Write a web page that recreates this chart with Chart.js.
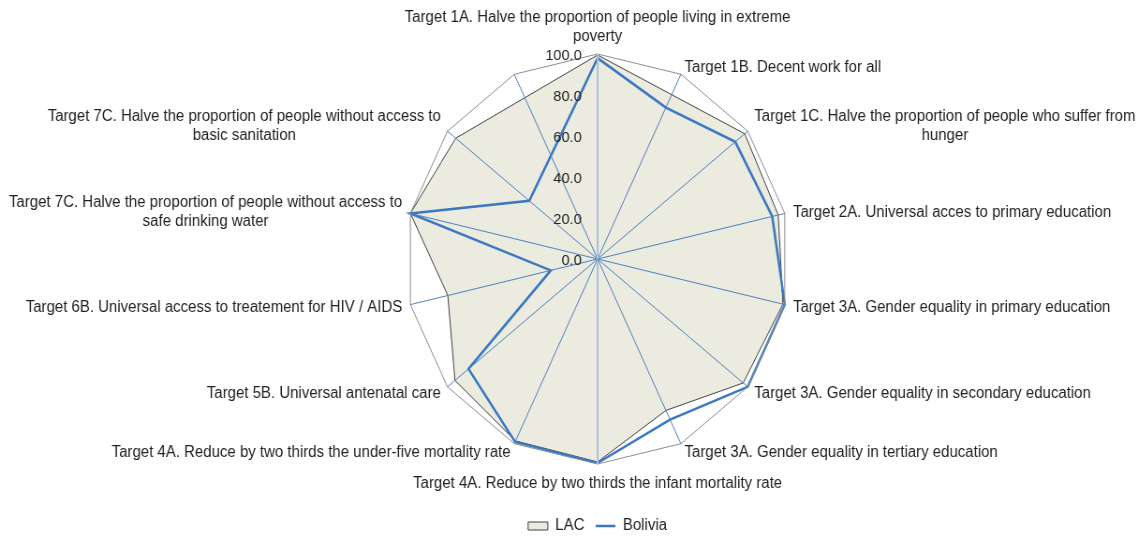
<!DOCTYPE html>
<html><head><meta charset="utf-8">
<script src="https://cdn.jsdelivr.net/npm/chart.js@4/dist/chart.umd.min.js"></script>
<style>
html,body{margin:0;padding:0;background:#fff;overflow:hidden;width:1138px;height:536px;}
#wrap{position:absolute;left:0;top:0;width:1215px;height:536px;transform:scaleX(0.93663);transform-origin:0 0;}
</style></head><body>
<div id="wrap"><canvas id="c"></canvas></div>
<script>
const categories = [
  ['Target 1A. Halve the proportion of people living in extreme', 'poverty'],
  'Target 1B. Decent work for all',
  ['Target 1C. Halve the proportion of people who suffer from', 'hunger'],
  'Target 2A. Universal acces to primary education',
  'Target 3A. Gender equality in primary education',
  'Target 3A. Gender equality in secondary education',
  'Target 3A. Gender equality in tertiary education',
  'Target 4A. Reduce by two thirds the infant mortality rate',
  'Target 4A. Reduce by two thirds the under-five mortality rate',
  'Target 5B. Universal antenatal care',
  'Target 6B. Universal access to treatement for HIV / AIDS',
  ['Target 7C. Halve the proportion of people without access to', 'safe drinking water'],
  ['Target 7C. Halve the proportion of people without access to', 'basic sanitation'],
  ''
];
const lacValues     = [99.5, null, 98, 96.5, 99, 97, 82, 99, 98.5, 95, 80, 100, 94.5, null];
const boliviaValues = [98, 82, 91.7, 93.3, 100, 100, 87, 99.5, 99, 86, 25, 100, 45.5, null];
const tickValues = [0, 20, 40, 60, 80, 100];
const seriesNames = ['LAC', 'Bolivia'];

const FONT = '"Liberation Sans", Arial, sans-serif';
const TEXT = '#222222';

const labelPlugin = {
  id: 'mdgLabels',
  afterDraw(chart) {
    const scale = chart.scales.r;
    const ctx = chart.ctx;
    ctx.save();
    ctx.fillStyle = TEXT;
    ctx.font = '16px ' + FONT;
    ctx.textBaseline = 'middle';
    const lh = 19;
    categories.forEach((lab, i) => {
      const lines = Array.isArray(lab) ? lab : [lab];
      if (!lines.join('')) return;
      const p = scale.getPointPosition(i, scale.drawingArea + 9);
      const a = scale.getIndexAngle(i) * 180 / Math.PI;
      const n = lines.length;
      const bw = Math.max(...lines.map(l => ctx.measureText(l).width));
      ctx.textAlign = 'center';
      if (Math.abs(a) < 1 || Math.abs(a - 360) < 1) {
        lines.forEach((l, k) => ctx.fillText(l, p.x, p.y - 8 - (n - 1 - k) * lh));
      } else if (Math.abs(a - 180) < 1) {
        lines.forEach((l, k) => ctx.fillText(l, p.x, p.y + 11 + k * lh));
      } else {
        const cx = a < 180 ? p.x + bw / 2 : p.x - bw / 2;
        const cy = p.y + 1;
        lines.forEach((l, k) => ctx.fillText(l, cx, cy + (k - (n - 1) / 2) * lh));
      }
    });
    ctx.font = '15.5px ' + FONT;
    ctx.textAlign = 'right';
    scale.ticks.forEach(t => {
      const d = scale.getDistanceFromCenterForValue(t.value);
      ctx.fillText(t.value.toFixed(1), scale.xCenter - 17, scale.yCenter - d + 2);
    });
    ctx.restore();
  }
};

new Chart(document.getElementById('c'), {
  type: 'radar',
  data: {
    labels: categories,
    datasets: [
      {
        label: seriesNames[0], data: lacValues, order: 2,
        backgroundColor: '#ECEBE0', borderColor: '#404040', borderWidth: 1,
        fill: 'start', spanGaps: true, pointRadius: 0, pointHoverRadius: 0, pointStyle: 'rect'
      },
      {
        label: seriesNames[1], data: boliviaValues, order: 1,
        backgroundColor: 'rgba(0,0,0,0)', borderColor: '#3A78C2', borderWidth: 2.5,
        fill: false, spanGaps: true, pointRadius: 0, pointHoverRadius: 0, pointStyle: 'line'
      }
    ]
  },
  options: {
    responsive: true, maintainAspectRatio: false, animation: false, devicePixelRatio: 1,
    layout: { padding: { left: 433, right: 372, top: 12, bottom: 0 } },
    plugins: {
      legend: {
        position: 'bottom', maxHeight: 30,
        labels: { usePointStyle: true, pointStyleWidth: 21, boxHeight: 8, padding: 12,
                  color: TEXT, font: { family: FONT, size: 16 },
                  sort: (x, y) => x.datasetIndex - y.datasetIndex }
      },
      tooltip: { enabled: false }
    },
    scales: {
      r: {
        min: 0, max: 100,
        afterBuildTicks: s => { s.ticks = tickValues.map(v => ({ value: v })); },
        ticks: { display: false, stepSize: 20 },
        grid: {
          z: 1,
          color: c => (c.tick && c.tick.value === 100) ? '#8c8c8c' : 'rgba(0,0,0,0)',
          lineWidth: c => (c.tick && c.tick.value === 100) ? 1 : 0
        },
        angleLines: {
          color: c => (c.index === 0 || c.index === 7) ? '#a9c3df' : '#4f81bd',
          lineWidth: c => (c.index === 0 || c.index === 7) ? 2 : 1
        },
        pointLabels: { display: false }
      }
    }
  },
  plugins: [labelPlugin]
});
</script>
</body></html>
